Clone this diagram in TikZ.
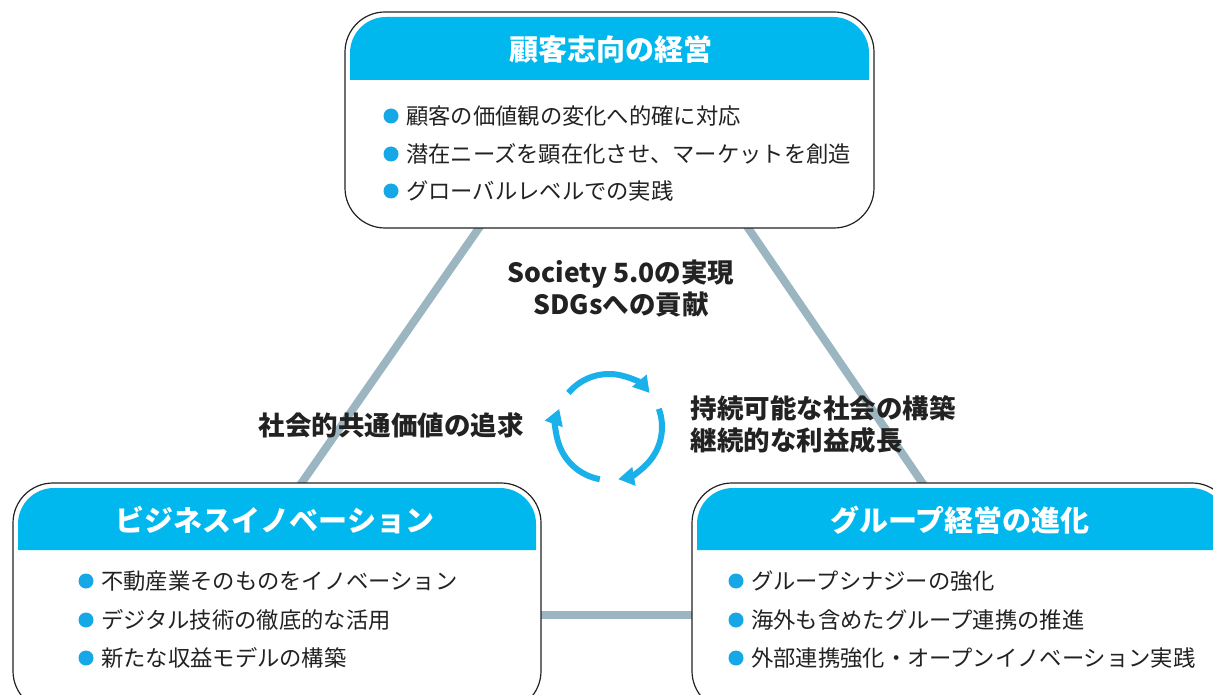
\documentclass[tikz,border=0pt]{standalone}
\usepackage{fontspec}
\setmainfont{Noto Sans CJK JP}
\usepackage{tikz}
\usetikzlibrary{arrows.meta,backgrounds}
\definecolor{hd}{RGB}{0,184,238}
\definecolor{dot}{RGB}{22,168,230}
\definecolor{cyc}{RGB}{26,176,234}
\definecolor{lk}{RGB}{156,182,193}
\definecolor{ink}{RGB}{34,34,34}

\begin{document}
\begin{tikzpicture}[x = 1pt, y = -1pt,
  panel/.style = {draw = ink, line width = 1.2pt, fill = white, rounded corners = 40pt},
  head/.style = {text = white, font = \bfseries\fontsize{29}{34}\selectfont},
  item/.style = {anchor = west, text = ink, inner sep = 0pt, font = \fontsize{22.3}{26}\selectfont},
  lead/.style = {text = ink, align = center, font = \bfseries\fontsize{26.5}{32}\selectfont},
  link/.style = {draw = lk, line width = 8pt, shorten < = -12pt, shorten > = -12pt},
  turn/.style = {draw = cyc, line width = 6pt, -{Triangle[length = 16pt, width = 18pt]}}]
\useasboundingbox (0,0) rectangle (1213,695);
\node[panel, minimum width = 529pt, minimum height = 216pt] (kokyaku) at (609.5,120) {};
\node[panel, minimum width = 528pt, minimum height = 228pt] (biz) at (277,597) {};
\node[panel, minimum width = 540pt, minimum height = 228pt] (group) at (962,597) {};
\begin{pgfonlayer}{background}
\draw[link] ([xshift = -131pt]kokyaku.south) -- ([xshift = 25pt]biz.north);
\draw[link] ([xshift = 139pt]kokyaku.south) -- ([xshift = -40pt]group.north);
\draw[link] ([yshift = -18pt]biz.east) -- ([yshift = -18pt]group.west);
\end{pgfonlayer}
\fill[hd] (350,80) [rounded corners = 36pt] -- (350,17) -- (869,17) [sharp corners] -- (869,80) -- cycle;
\fill[hd] (18,550) [rounded corners = 36pt] -- (18,488) -- (536,488) [sharp corners] -- (536,550) -- cycle;
\fill[hd] (697,550) [rounded corners = 36pt] -- (697,488) -- (1227,488) [sharp corners] -- (1227,550) -- cycle;
\node[head] (kokyakut) at (611,49) {顧客志向の経営};
\node[head] (bizt) at (275,520) {ビジネスイノベーション};
\node[head] (groupt) at (960,520) {グループ経営の進化};
\fill[dot] (391,116) circle (7.5pt);
\fill[dot] (391,154) circle (7.5pt);
\fill[dot] (391,191) circle (7.5pt);
\node[item] (k1) at (406,116) {顧客の価値観の変化へ的確に対応};
\node[item] (k2) at (406,154) {潜在ニーズを顕在化させ、マーケットを創造};
\node[item] (k3) at (406,191) {グローバルレベルでの実践};
\fill[dot] (86,581) circle (7.5pt);
\fill[dot] (86,620) circle (7.5pt);
\fill[dot] (86,658) circle (7.5pt);
\node[item] (b1) at (101,581) {不動産業そのものをイノベーション};
\node[item] (b2) at (101,620) {デジタル技術の徹底的な活用};
\node[item] (b3) at (101,658) {新たな収益モデルの構築};
\fill[dot] (736,581) circle (7.5pt);
\fill[dot] (736,620) circle (7.5pt);
\fill[dot] (736,658) circle (7.5pt);
\node[item] (g1) at (751,581) {グループシナジーの強化};
\node[item] (g2) at (751,620) {海外も含めたグループ連携の推進};
\node[item] (g3) at (751,658) {外部連携強化・オープンイノベーション実践};
\node[lead] (goal) at (621,289) {Society 5.0の実現\\SDGsへの貢献};
\node[lead] (kyotsu) at (391,425) {社会的共通価値の追求};
\node[lead, align = left, anchor = west] (jizoku) at (687,424) {持続可能な社会の構築\\継続的な利益成長};
\draw[turn] (609,427) ++(-140:53) arc[start angle = -140, end angle = -40, radius = 53];
\draw[turn] (609,427) ++(-20:53) arc[start angle = -20, end angle = 80, radius = 53];
\draw[turn] (609,427) ++(100:53) arc[start angle = 100, end angle = 200, radius = 53];
\end{tikzpicture}
\end{document}
